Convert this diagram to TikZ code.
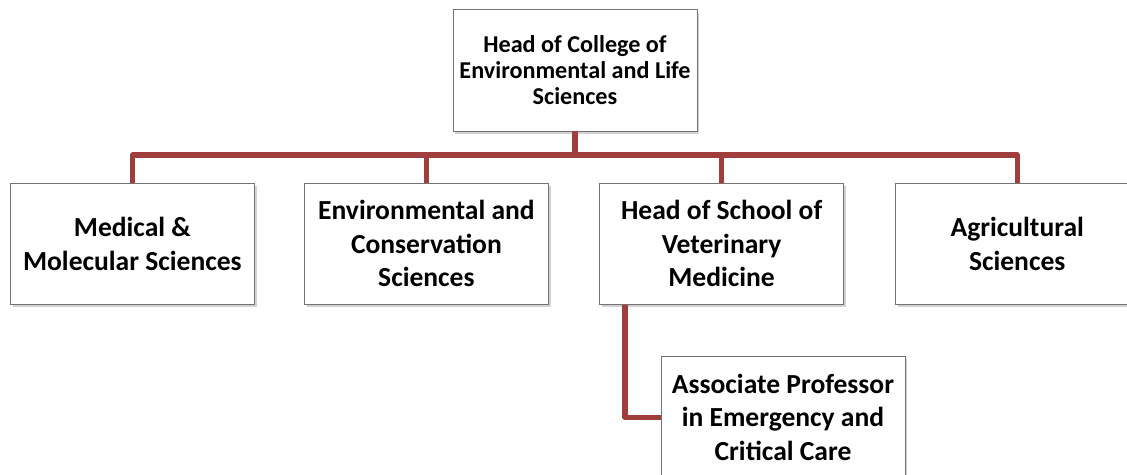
\documentclass[tikz,border=0pt]{standalone}
\usepackage{fontspec}
\setmainfont{Carlito}
\usetikzlibrary{shadows}
\definecolor{linkred}{RGB}{160,62,62}
\begin{document}
\begin{tikzpicture}[
    unit/.style={rectangle, draw=black!55, fill=white, line width=0.6pt, minimum width=6.1cm, minimum height=3.03cm, align=center, font=\fontsize{19.6}{24}\selectfont\bfseries, drop shadow={opacity=0.35, shadow xshift=0.06cm, shadow yshift=-0.07cm}},
    head/.style={unit, font=\fontsize{17.2}{18.4}\selectfont\bfseries},
    link/.style={draw=linkred, line width=3.6pt, line join=round}
]
    \clip (0,0) rectangle (28.175,-11.85);
    \fill[white] (0,0) rectangle (28.175,-11.85);

    % Knoten
    \node[head] (college) at (14.375,-1.76) {Head of College of\\Environmental and Life\\Sciences};
    \node[unit] (medical) at (3.31,-6.09) {Medical \&\\Molecular Sciences};
    \node[unit] (environ) at (10.66,-6.09) {Environmental and\\Conservation\\Sciences};
    \node[unit] (vet) at (18.04,-6.09) {Head of School of\\Veterinary\\Medicine};
    \node[unit] (agri) at (25.43,-6.09) {Agricultural\\Sciences};
    \node[unit] (assoc) at (19.575,-10.43) {Associate Professor\\in Emergency and\\Critical Care};

    % Verbindungen
    \coordinate (bus) at (14.375,-3.875);
    \draw[link] (college.south) -- (bus);
    \draw[link] (bus) -| (medical.north);
    \draw[link] (bus) -| (environ.north);
    \draw[link] (bus) -| (vet.north);
    \draw[link] (bus) -| (agri.north);
    \draw[link] ([xshift=-2.415cm]vet.south) |- (assoc.west);
\end{tikzpicture}
\end{document}
